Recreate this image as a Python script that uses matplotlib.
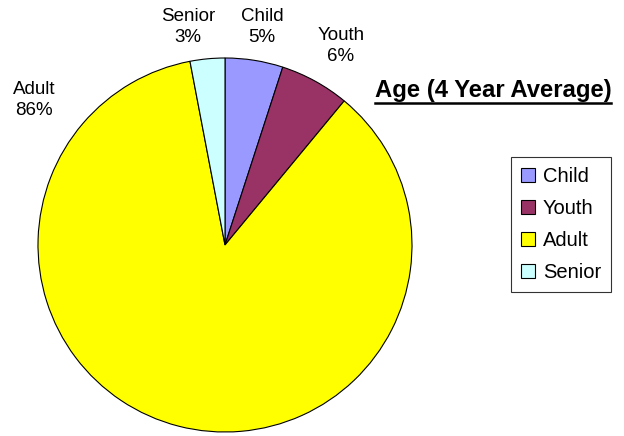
import matplotlib
matplotlib.use("Agg")
import matplotlib.pyplot as plt
from matplotlib.patches import Patch
from matplotlib.lines import Line2D

plt.rcParams['font.family'] = ['Liberation Sans', 'DejaVu Sans']

categories = ["Child", "Youth", "Adult", "Senior"]
values = [5, 6, 86, 3]
colors = ["#9999FF", "#993366", "#FFFF00", "#CCFFFF"]
title = "Age (4 Year Average)"

W, H = 624, 436
fig = plt.figure(figsize=(W / 100, H / 100), dpi=100)
cx, cy, r = 225, 245, 187
ax = fig.add_axes([(cx - r) / W, (H - cy - r) / H, 2 * r / W, 2 * r / H])
wedges, _ = ax.pie(values, colors=colors, startangle=90, counterclock=False,
                   radius=1.0, wedgeprops=dict(edgecolor="black", linewidth=0.8))
ax.set_xlim(-1, 1)
ax.set_ylim(-1, 1)
ax.set_aspect("equal")
ax.axis("off")

# label positions (pixel coords of label centres)
label_px = {"Child": (262, 27), "Youth": (341, 46), "Adult": (34, 100), "Senior": (188, 27)}
for cat, v in zip(categories, values):
    px, py = label_px[cat]
    ax.text((px - cx) / r, (cy - py) / r, f"{cat}\n{v}%", ha="center", va="center",
            fontsize=13.5, linespacing=1.25, clip_on=False)

t = fig.text(493 / W, 1 - 91 / H, title, ha="center", va="center",
             fontsize=17.2, fontweight="bold")
fig.canvas.draw()
bb = t.get_window_extent().transformed(fig.transFigure.inverted())
uy = 1 - 103 / H
fig.add_artist(Line2D([bb.x0, bb.x1], [uy, uy], transform=fig.transFigure,
                      color="black", linewidth=1.8))

handles = [Patch(facecolor=c, edgecolor="black", linewidth=0.8) for c in colors]
leg = fig.legend(handles, categories, loc="upper left",
                 bbox_to_anchor=(511 / W, 1 - 157 / H), frameon=True, fancybox=False,
                 edgecolor="black", fontsize=14.5, labelspacing=0.64,
                 handlelength=0.68, handleheight=0.68, handletextpad=0.4,
                 borderpad=0.5, borderaxespad=0)
leg.get_frame().set_linewidth(0.8)

fig.savefig("out.png", dpi=100)
